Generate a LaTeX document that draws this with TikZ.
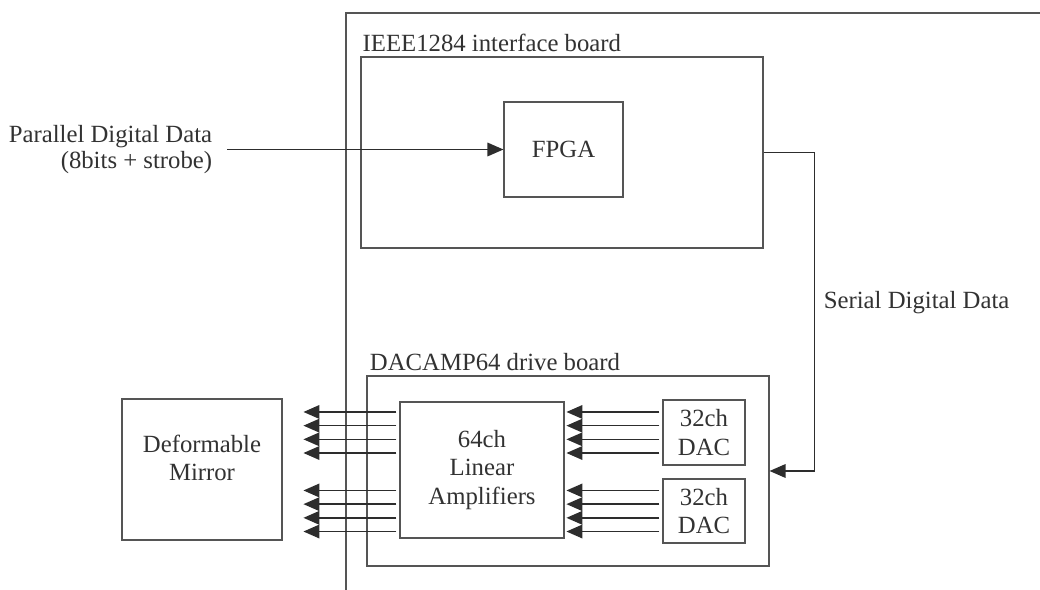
\documentclass[tikz,border=0pt]{standalone}
\usepackage{fontspec}
\setmainfont{Liberation Serif}
\usetikzlibrary{positioning, calc, arrows.meta}
\definecolor{lineGray}{RGB}{85, 85, 85}
\definecolor{arrowGray}{RGB}{45, 45, 45}
\definecolor{textGray}{RGB}{50, 50, 50}
\begin{document}
\begin{tikzpicture}[
    font=\fontsize{17.6}{20.5}\selectfont,
    box/.style={draw=lineGray, line width=0.8pt, align=center, text=textGray, inner sep=0pt},
    plain/.style={text=textGray, inner sep=0pt},
    sig/.style={draw=arrowGray, line width=1pt, -{Triangle[length=0.4cm, width=0.34cm]}},
    bus/.style={sig, line width=1.1pt}
  ]
  \useasboundingbox (0,0) rectangle (26,14.75);

  % Enclosure edge
  \draw[lineGray, line width=0.8pt] (8.65,0) -- (8.65,14.425) -- (26,14.425);

  % IEEE1284 interface board
  \node[box, minimum width=10.05cm, minimum height=4.775cm] (ieee) at (14.05,10.9375) {};
  \node[box, minimum width=2.975cm, minimum height=2.375cm] (fpga) at (14.0875,11.0125) {FPGA};
  \node[plain, above right=0.12cm and 0.05cm of ieee.north west] (ieeelabel) {IEEE1284 interface board};

  % Parallel input
  \coordinate (pin) at ([xshift=-6.9cm]fpga.west);
  \node[plain, align=right, font=\fontsize{17.6}{18}\selectfont, left=0.375cm of pin] (partext)
    {Parallel Digital Data\\(8bits + strobe)};
  \draw[sig] (pin) -- (fpga.west);

  % DACAMP64 drive board
  \node[box, minimum width=10.05cm, minimum height=4.75cm] (dacamp) at (14.2,2.975) {};
  \node[plain, above right=0.12cm and 0.08cm of dacamp.north west] (dacamplabel) {DACAMP64 drive board};
  \node[box, minimum width=4.1cm, minimum height=3.4cm] (amp) at (12.05,3.0) {64ch\\Linear\\Amplifiers};
  \node[box, minimum width=2.05cm, minimum height=1.625cm] (dac1) at (17.6,3.9375) {32ch\\DAC};
  \node[box, minimum width=2.05cm, minimum height=1.6cm] (dac2) at (17.6,1.975) {32ch\\DAC};

  % Deformable mirror
  \node[box, minimum width=4.0cm, minimum height=3.525cm] (mirror) at (5.05,3.0125) {};
  \node[plain, align=center] (mirrortext) at ([yshift=0.29cm]mirror.center) {Deformable\\Mirror};

  % Serial link
  \draw[sig] (ieee.east) -- ++(1.275,0) coordinate (turn) |- (dacamp.east);
  \node[plain, anchor=west] (serlabel) at ($(turn |- 0,7.175)+(0.225,0)$) {Serial Digital Data};

  % Channel buses
  \foreach \d in {dac1,dac2} {
    \foreach \o in {-0.513,-0.171,0.171,0.513} {
      \draw[bus] ($(\d.west)+(-0.075,\o)$) -- ++(-2.325,0);
      \draw[bus] ($(amp.west |- \d.west)+(-0.075,\o)$) -- ++(-2.325,0);
    }
  }
\end{tikzpicture}
\end{document}
